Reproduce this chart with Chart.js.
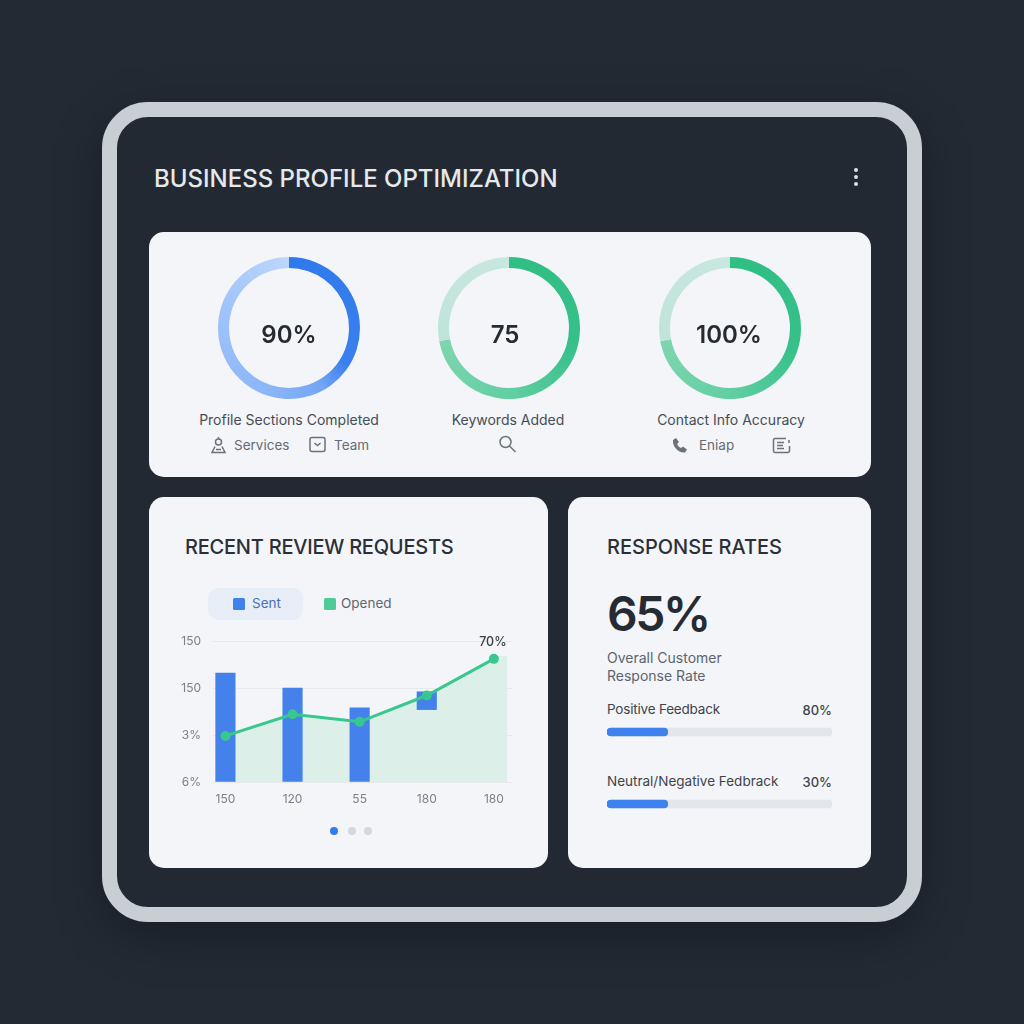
<!DOCTYPE html>
<html>
<head>
<meta charset="utf-8">
<script src="https://cdn.jsdelivr.net/npm/chart.js@4/dist/chart.umd.min.js"></script>
<style>
  html, body { margin: 0; padding: 0; }
  body { width: 1024px; height: 1024px; background: #232a34; position: relative; overflow: hidden;
         font-family: Inter, "Noto Sans", sans-serif; }
  .frame { position: absolute; left: 102px; top: 102px; width: 790px; height: 790px; border: 15px solid #c9ced4;
           border-radius: 46px; background: #222933; box-shadow: 0 14px 50px rgba(0,0,0,.28); }
  .card { position: absolute; background: #f3f5f8; border-radius: 15px; }
  .t { position: absolute; white-space: nowrap; line-height: 1; }
  .c { transform: translateX(-50%); }
  .r { transform: translateX(-100%); }
  canvas { position: absolute; }
  svg { position: absolute; fill: none; stroke: #6b727b; stroke-width: 1.5; }
  .sq { position: absolute; width: 12px; height: 12px; border-radius: 1.5px; }
  .dot { position: absolute; width: 8px; height: 8px; border-radius: 50%; background: #d2d8df; }
  .menu { position: absolute; left: 854px; width: 4px; height: 4px; border-radius: 50%; background: #dde1e6; }
</style>
</head>
<body>
<div class="frame"></div>
<div class="t" style="left:154px;top:167px;font-size:24px;font-weight:500;color:#e6e9ec">BUSINESS PROFILE OPTIMIZATION</div>
<div class="menu" style="top:168px"></div><div class="menu" style="top:175px"></div><div class="menu" style="top:182px"></div>

<div class="card" style="left:149px;top:232px;width:722px;height:245px"></div>
<div class="card" style="left:149px;top:497px;width:399px;height:371px"></div>
<div class="card" style="left:568px;top:497px;width:303px;height:371px"></div>

<canvas id="ring1" style="left:209px;top:248px"></canvas>
<canvas id="ring2" style="left:429px;top:248px"></canvas>
<canvas id="ring3" style="left:650px;top:248px"></canvas>

<div class="t c" style="left:289px;top:323px;font-size:24px;font-weight:600;color:#262b33">90%</div>
<div class="t c" style="left:505px;top:323px;font-size:24px;font-weight:600;color:#262b33">75</div>
<div class="t c" style="left:729px;top:323px;font-size:24px;font-weight:600;color:#262b33">100%</div>

<div class="t c" style="left:289px;top:413px;font-size:14px;color:#474d56">Profile Sections Completed</div>
<div class="t c" style="left:508px;top:413px;font-size:14px;color:#474d56">Keywords Added</div>
<div class="t c" style="left:731px;top:413px;font-size:14px;color:#474d56">Contact Info Accuracy</div>

<svg style="left:210px;top:436px" width="17" height="18" viewBox="0 0 17 18"><circle cx="8.500" cy="6" r="3"/><path d="M8.500 1v2M5 10.500L2 16.500h13L12 10.500M6 13.500h5"/></svg>
<div class="t" style="left:234px;top:439px;font-size:13.5px;color:#666c75">Services</div>
<svg style="left:309px;top:436px" width="17" height="17" viewBox="0 0 17 17"><rect x="1" y="1.500" width="15" height="14" rx="2"/><path d="M5.500 7l3 2.500 3-2.500"/></svg>
<div class="t" style="left:334px;top:439px;font-size:13.5px;color:#666c75">Team</div>

<svg style="left:498px;top:435px" width="19" height="18" viewBox="0 0 19 18"><circle cx="7.500" cy="7" r="5.500"/><path d="M11.500 11l6 6"/></svg>

<svg style="left:672px;top:437px" width="17" height="17" viewBox="0 0 17 17"><path style="fill:#6b727b;stroke:none" d="M1 3l3-2 3 4-2 2c1 2 2 3 4 4l2-1.500 4 3-2 3c-6 1-13-6-12-12.500z"/></svg>
<div class="t" style="left:699px;top:439px;font-size:13.5px;color:#666c75">Eniap</div>
<svg style="left:772px;top:437px" width="20" height="17" viewBox="0 0 20 17"><path d="M14 1.500H3a1.500 1.500 0 0 0-1.500 1.500v11A1.500 1.500 0 0 0 3 15.500h13a1.500 1.500 0 0 0 1.500-1.500V9M5 5.500h7M5 8.500h6M5 11.500h7M17 3v3"/></svg>

<div class="t" style="left:185px;top:537px;font-size:20px;font-weight:500;letter-spacing:-0.23px;color:#2b3038">RECENT REVIEW REQUESTS</div>
<div style="position:absolute;left:208px;top:588px;width:95px;height:32px;border-radius:11px;background:#e7eef8"></div>
<div class="sq" style="left:233px;top:598px;background:#3f80ec"></div>
<div class="t" style="left:252px;top:597px;font-size:13.5px;color:#4c70b4">Sent</div>
<div class="sq" style="left:324px;top:598px;background:#4ecb96"></div>
<div class="t" style="left:341px;top:597px;font-size:13.5px;color:#5f6670">Opened</div>

<canvas id="reviews" style="left:170px;top:620px"></canvas>

<div class="dot" style="left:330px;top:827px;background:#2f7bef"></div>
<div class="dot" style="left:348px;top:827px"></div>
<div class="dot" style="left:364px;top:827px"></div>

<div class="t" style="left:607px;top:590px;font-size:48px;font-weight:600;letter-spacing:-2.5px;color:#262b33">65%</div>
<div class="t" style="left:607px;top:537px;font-size:20px;font-weight:500;color:#2b3038">RESPONSE RATES</div>
<div class="t" style="left:607px;top:651px;font-size:14px;color:#5d646e">Overall Customer</div>
<div class="t" style="left:607px;top:669px;font-size:14px;color:#5d646e">Response Rate</div>
<div class="t" style="left:607px;top:703px;font-size:13.5px;letter-spacing:-0.2px;color:#3e444d">Positive Feedback</div>
<div class="t r" style="left:832px;top:704px;font-size:13px;font-weight:500;color:#3e444d">80%</div>
<div class="t" style="left:607px;top:775px;font-size:13.5px;color:#3e444d">Neutral/Negative Fedbrack</div>
<div class="t r" style="left:832px;top:776px;font-size:13px;font-weight:500;color:#3e444d">30%</div>
<canvas id="rates" style="left:607px;top:696px"></canvas>

<script>
Chart.defaults.animation = false;
Chart.defaults.responsive = false;
Chart.defaults.font.family = "Inter, 'Noto Sans', sans-serif";

// ring shares, read off the drawn arcs (not the labels in the middle)
const profileRing = [90, 10];
const keywordsRing = [72, 28];
const contactRing = [72, 28];

// review requests chart
const xTickLabels = ["150", "120", "55", "180", "180"];
const yTickLabels = ["6%", "3%", "150", "150"];
const sentLow = [0, 0, 0, 77];
const sentHigh = [116, 100, 79, 96];
const openedValues = [49, 72, 64, 92, 131];
const areaX = [0, 1, 2, 3, 4, 4.05, 4.2];
const areaValues = [49, 72, 64, 92, 131, 134, 134];
const lastPointLabel = "70%";

// feedback bars
const rateNames = ["Positive Feedback", "Neutral/Negative Fedbrack"];
const rateFill = [27, 27];
const rateTrack = [100, 100];

const blueStops = [[0, "#2f79ec"], [0.34, "#3a80ee"], [0.42, "#74a6f5"], [0.55, "#8bb6f8"], [0.8, "#a0c3fa"], [1, "#bed6fb"]];
const greenStops = [[0, "#2fbe84"], [0.3, "#37c08a"], [0.5, "#62cfa2"], [0.72, "#7fd5b0"], [0.72, "#c0e4da"], [1, "#c8e7df"]];

function conic(chart, stops) {
  const a = chart.chartArea;
  if (!a) return stops[0][1];
  const g = chart.ctx.createConicGradient(-Math.PI / 2, (a.left + a.right) / 2, (a.top + a.bottom) / 2);
  stops.forEach((s) => g.addColorStop(s[0], s[1]));
  return g;
}

function ring(id, values, stops) {
  const el = document.getElementById(id);
  el.width = 160;
  el.height = 160;
  new Chart(el, {
    type: "doughnut",
    data: {
      datasets: [{
        data: values,
        borderWidth: 0,
        backgroundColor: (c) => conic(c.chart, stops),
      }],
    },
    options: {
      radius: 71,
      cutout: "84.5%",
      plugins: { legend: { display: false }, tooltip: { enabled: false } },
    },
  });
}
ring("ring1", profileRing, blueStops);
ring("ring2", keywordsRing, greenStops);
ring("ring3", contactRing, greenStops);

const lastLabelPlugin = {
  id: "lastLabel",
  afterDatasetsDraw(chart) {
    const meta = chart.getDatasetMeta(0);
    const p = meta.data[meta.data.length - 1];
    const ctx = chart.ctx;
    ctx.save();
    ctx.font = "500 12.5px Inter";
    ctx.fillStyle = "#3a4048";
    ctx.textAlign = "center";
    ctx.textBaseline = "middle";
    ctx.fillText(lastPointLabel, p.x - 1, p.y - 17);
    ctx.restore();
  },
};

const reviews = document.getElementById("reviews");
reviews.width = 342;
reviews.height = 200;
new Chart(reviews, {
  type: "bar",
  data: {
    datasets: [
      {
        type: "line",
        label: "Opened",
        data: openedValues.map((v, i) => ({ x: i, y: v })),
        borderColor: "#38c78e",
        backgroundColor: "#38c78e",
        borderWidth: 3,
        pointRadius: 3.5,
        tension: 0,
        fill: false,
        order: 1,
      },
      {
        label: "Sent",
        data: sentHigh.map((v, i) => ({ x: i, y: [sentLow[i], v] })),
        backgroundColor: "#4481ea",
        barThickness: 19.5,
        order: 2,
      },
      {
        type: "line",
        label: "Opened area",
        data: areaValues.map((v, i) => ({ x: areaX[i], y: v })),
        borderWidth: 0,
        pointRadius: 0,
        backgroundColor: "#dcf0e9",
        tension: 0,
        fill: "origin",
        order: 3,
      },
    ],
  },
  options: {
    layout: { autoPadding: false, padding: { top: 21 } },
    plugins: { legend: { display: false }, tooltip: { enabled: false } },
    scales: {
      x: {
        type: "linear",
        offset: false,
        min: -0.2,
        max: 4.27,
        grid: { display: false, offset: false },
        border: { display: false },
        afterBuildTicks: (s) => { s.ticks = xTickLabels.map((_, i) => ({ value: i })); },
        afterFit: (s) => { s.height = 38; s.paddingLeft = 0; s.paddingRight = 0; },
        ticks: {
          color: "#7a818b",
          font: { size: 12 },
          padding: 2,
          maxRotation: 0,
          autoSkip: false,
          callback: (v) => xTickLabels[v],
        },
      },
      y: {
        min: 0,
        max: 150,
        afterFit: (s) => { s.width = 42; },
        grid: { color: "#e6e9ee", drawTicks: false },
        border: { display: false },
        ticks: {
          stepSize: 50,
          color: "#7a818b",
          font: { size: 12 },
          padding: 11,
          callback: (v) => yTickLabels[v / 50],
        },
      },
    },
  },
  plugins: [lastLabelPlugin],
});

const rates = document.getElementById("rates");
rates.width = 225;
rates.height = 144;
new Chart(rates, {
  type: "bar",
  data: {
    labels: rateNames,
    datasets: [
      { data: rateFill, backgroundColor: "#3f82ee", borderRadius: 4, borderSkipped: false, barThickness: 8, grouped: false, order: 1 },
      { data: rateTrack, backgroundColor: "#e2e7ec", borderRadius: 4, borderSkipped: false, barThickness: 8, grouped: false, order: 2 },
    ],
  },
  options: {
    indexAxis: "y",
    plugins: { legend: { display: false }, tooltip: { enabled: false } },
    scales: {
      x: { display: false, min: 0, max: 100 },
      y: { display: false },
    },
  },
});
</script>
</body>
</html>
